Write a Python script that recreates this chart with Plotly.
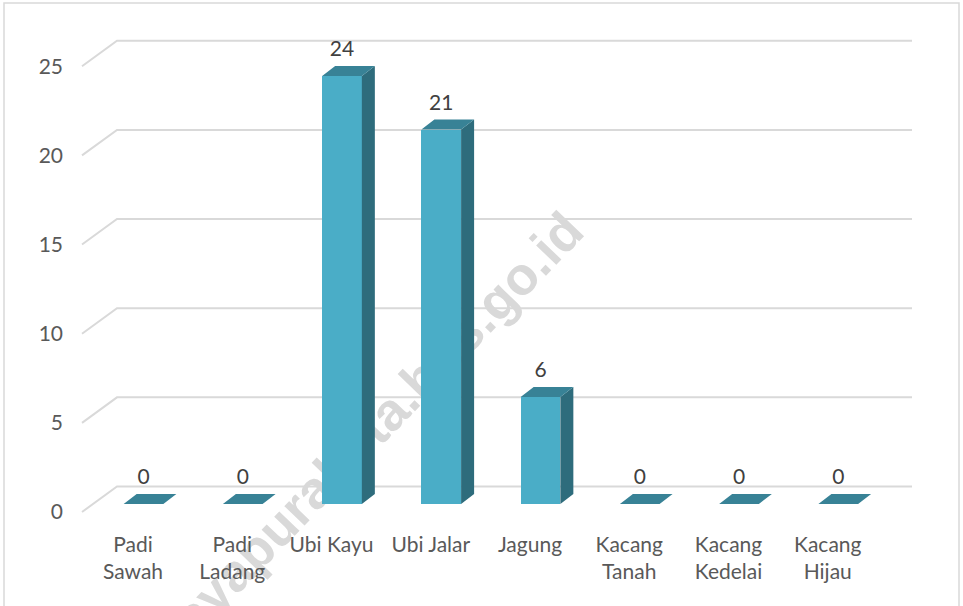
import plotly.graph_objects as go

# ---- data ----
categories = ["Padi<br>Sawah", "Padi<br>Ladang", "Ubi Kayu", "Ubi Jalar", "Jagung",
              "Kacang<br>Tanah", "Kacang<br>Kedelai", "Kacang<br>Hijau"]
values = [0, 0, 24, 21, 6, 0, 0, 0]
y_ticks = [0, 5, 10, 15, 20, 25]
y_tick_labels = ["0", "5", "10", "15", "20", "25"]
watermark_text = "jayapurakota.bps.go.id"

# ---- style / geometry (data units) ----
W_FIG, H_FIG = 963, 606
L, R, T, B = 64, 40, 20, 76
PX_PER_X = 99.25      # pixels per category step
PX_PER_Y = 17.83      # pixels per value unit
X0_PX = 143.5         # pixel of first category
Y0_PX = 504           # pixel of value 0 on bar front
plot_w = W_FIG - L - R
plot_h = H_FIG - T - B
x_lo = -(X0_PX - L) / PX_PER_X
x_hi = x_lo + plot_w / PX_PER_X
y_lo = -(T + plot_h - Y0_PX) / PX_PER_Y
y_hi = y_lo + plot_h / PX_PER_Y

bar_w = 0.40
ddx = 13 / PX_PER_X   # bar depth
ddy = 10 / PX_PER_Y
front_dy = -8 / PX_PER_Y    # floor front relative to bar front plane
back_dy = 17.5 / PX_PER_Y   # back wall relative to bar front plane
label_dx = -10.5 / PX_PER_X  # category labels sit at the floor front
wall_front_x = (82 - X0_PX) / PX_PER_X
wall_back_x = (117 - X0_PX) / PX_PER_X
wall_right_x = (912 - X0_PX) / PX_PER_X

FRONT = "#4AADC7"
SIDE = "#2E6C7C"
TOP = "#388296"
GRID = "#D9D9D9"
TXT = "#595959"
FONT = "Lato, 'Open Sans', sans-serif"

xs = list(range(len(categories)))
fig = go.Figure()

# front faces
fig.add_trace(go.Bar(x=xs, y=values, width=bar_w, marker=dict(color=FRONT, line=dict(width=0)),
                     showlegend=False, hoverinfo="y"))

# side faces
sx, sy = [], []
for i, v in zip(xs, values):
    if v > 0:
        sx += [i + bar_w / 2, i + bar_w / 2 + ddx, i + bar_w / 2 + ddx, i + bar_w / 2, i + bar_w / 2, None]
        sy += [0, ddy, v + ddy, v, 0, None]
fig.add_trace(go.Scatter(x=sx, y=sy, mode="lines", fill="toself", fillcolor=SIDE,
                         line=dict(width=0, color=SIDE), hoverinfo="skip", showlegend=False))

# top faces
tx, ty = [], []
for i, v in zip(xs, values):
    tx += [i - bar_w / 2, i + bar_w / 2, i + bar_w / 2 + ddx, i - bar_w / 2 + ddx, i - bar_w / 2, None]
    ty += [v, v, v + ddy, v + ddy, v, None]
fig.add_trace(go.Scatter(x=tx, y=ty, mode="lines", fill="toself", fillcolor=TOP,
                         line=dict(width=0, color=TOP), hoverinfo="skip", showlegend=False))

# value labels
fig.add_trace(go.Scatter(x=xs, y=[v + ddy + 15 / PX_PER_Y for v in values], mode="text",
                         text=[str(v) for v in values], textposition="middle center",
                         textfont=dict(family=FONT, size=21, color="#404040"),
                         hoverinfo="skip", showlegend=False))

def px_to_paper_x(p):
    return (p - L) / plot_w

def px_to_paper_y(p):
    return 1 - (p - T) / plot_h

shapes = [
    # watermark (behind everything)
    dict(type="rect", xref="paper", yref="paper",
         x0=px_to_paper_x(364), x1=px_to_paper_x(374), y0=px_to_paper_y(430), y1=px_to_paper_y(420),
         line=dict(width=0), fillcolor="rgba(0,0,0,0)", layer="below",
         label=dict(text=watermark_text, textangle=-46, textposition="middle center",
                    font=dict(family="'Liberation Sans', Arial, sans-serif", size=53,
                              color="#D9D9D9", weight="bold"))),
    # chart frame
    dict(type="rect", xref="paper", yref="paper",
         x0=px_to_paper_x(4), x1=px_to_paper_x(959), y0=px_to_paper_y(640), y1=px_to_paper_y(3),
         line=dict(color="#D9D9D9", width=1.5), fillcolor="rgba(0,0,0,0)", layer="below"),
]
# gridlines (back wall + diagonal side lines), drawn below the bars
for v in y_ticks:
    shapes.append(dict(type="path", xref="x", yref="y", layer="below",
                       path=f"M {wall_front_x},{v + front_dy} L {wall_back_x},{v + back_dy} L {wall_right_x},{v + back_dy}",
                       line=dict(color=GRID, width=2)))

fig.update_layout(
    width=W_FIG, height=H_FIG,
    margin=dict(l=L, r=R, t=T, b=B, autoexpand=False),
    paper_bgcolor="white", plot_bgcolor="rgba(0,0,0,0)",
    shapes=shapes,
    xaxis=dict(range=[x_lo, x_hi], tickmode="array", tickvals=[i + label_dx for i in xs],
               ticktext=categories,
               showgrid=False, zeroline=False, showline=False, ticks="", automargin=False,
               tickfont=dict(family=FONT, size=21, color=TXT), fixedrange=True),
    yaxis=dict(range=[y_lo, y_hi], tickmode="array",
               tickvals=[v + front_dy for v in y_ticks], ticktext=y_tick_labels,
               showgrid=False, zeroline=False, showline=False, ticks="", automargin=False,
               tickfont=dict(family=FONT, size=21, color=TXT), fixedrange=True),
    bargap=0,
)

fig.write_html("out.html", config={"displayModeBar": False},
               post_script="document.body.style.margin='0';document.body.style.overflow='hidden';")
